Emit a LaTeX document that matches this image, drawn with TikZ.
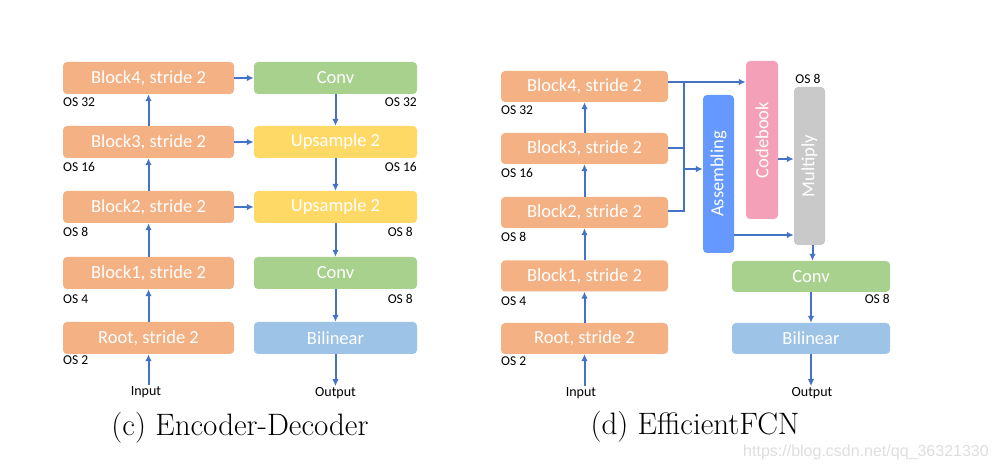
\documentclass[tikz,border=0pt]{standalone}
\usepackage{fontspec}
\usepackage{xcolor}
\usetikzlibrary{
    arrows.meta,
    calc,
    positioning
}
\newfontfamily\boxfont{Carlito}
\newfontfamily\markfont{Liberation Sans}
\definecolor{encorange}{HTML}{F4B183}
\definecolor{convgreen}{HTML}{A9D18E}
\definecolor{upyellow}{HTML}{FFD966}
\definecolor{bilblue}{HTML}{9DC3E6}
\definecolor{asmblue}{HTML}{6699FF}
\definecolor{cbpink}{HTML}{F4A0B8}
\definecolor{mulgray}{HTML}{C9C9C9}
\definecolor{flowblue}{HTML}{4472C4}
\tikzset{
    blockbox/.style={rectangle, rounded corners=4pt, inner sep=0pt, text=white,
        font=\boxfont\fontsize{18.5}{20}\selectfont, minimum height=32pt},
    tallbox/.style={rectangle, rounded corners=4pt, inner sep=0pt,
        minimum width=31pt, minimum height=158pt},
    tallname/.style={rotate=90, inner sep=0pt, text=white,
        font=\boxfont\fontsize{18.5}{20}\selectfont},
    oslabel/.style={inner sep=0pt, font=\boxfont\fontsize{13.5}{15}\selectfont},
    iolabel/.style={inner sep=1pt, font=\boxfont\fontsize{14}{16}\selectfont},
    caption/.style={inner sep=0pt, font=\fontsize{31}{36}\selectfont},
    flow/.style={draw=flowblue, line width=2pt, -{Latex[length=7pt, width=6.5pt]}},
    bus/.style={draw=flowblue, line width=2pt}
}

\begin{document}
\begin{tikzpicture}[x=1pt, y=-1pt]
    \useasboundingbox (0, 0) rectangle (997, 470);
    \begin{scope}
        \node[blockbox, fill=encorange, minimum width=171pt] (lb4) at (148.5, 78) {Block4, stride 2};
        \node[blockbox, fill=encorange, minimum width=171pt] (lb3) at (148.5, 142) {Block3, stride 2};
        \node[blockbox, fill=encorange, minimum width=171pt] (lb2) at (148.5, 207) {Block2, stride 2};
        \node[blockbox, fill=encorange, minimum width=171pt] (lb1) at (148.5, 273) {Block1, stride 2};
        \node[blockbox, fill=encorange, minimum width=171pt] (lroot) at (148.5, 338) {Root, stride 2};
        \node[blockbox, fill=convgreen, minimum width=163pt] (lconva) at (335.5, 78) {Conv};
        \node[blockbox, fill=upyellow, minimum width=163pt] (lupa) at (335.5, 142) {Upsample 2};
        \node[blockbox, fill=upyellow, minimum width=163pt] (lupb) at (335.5, 207) {Upsample 2};
        \node[blockbox, fill=convgreen, minimum width=163pt] (lconvb) at (335.5, 273) {Conv};
        \node[blockbox, fill=bilblue, minimum width=163pt] (lbil) at (335.5, 338) {Bilinear};
        \node[oslabel, anchor=west] (los32) at (63, 102) {OS 32};
        \node[oslabel, anchor=west] (los16) at (63, 167) {OS 16};
        \node[oslabel, anchor=west] (los8) at (63, 232) {OS 8};
        \node[oslabel, anchor=west] (los4) at (63, 299) {OS 4};
        \node[oslabel, anchor=west] (los2) at (63, 360) {OS 2};
        \node[oslabel, anchor=east] (ros32) at (417, 102) {OS 32};
        \node[oslabel, anchor=east] (ros16) at (417, 167) {OS 16};
        \node[oslabel, anchor=east] (ros8a) at (413, 232) {OS 8};
        \node[oslabel, anchor=east] (ros8b) at (413, 299) {OS 8};
        \node[iolabel] (lin) at (146, 392) {Input};
        \node[iolabel] (lout) at (335.5, 393) {Output};
        \draw[flow] (lin.north -| lroot.south) -- (lroot.south);
        \draw[flow] (lroot) -- (lb1);
        \draw[flow] (lb1) -- (lb2);
        \draw[flow] (lb2) -- (lb3);
        \draw[flow] (lb3) -- (lb4);
        \draw[flow] (lb4) -- (lconva);
        \draw[flow] (lb3) -- (lupa);
        \draw[flow] (lb2) -- (lupb);
        \draw[flow] (lconva) -- (lupa);
        \draw[flow] (lupa) -- (lupb);
        \draw[flow] (lupb) -- (lconvb);
        \draw[flow] (lconvb) -- (lbil);
        \draw[flow] (lbil.south) -- (lout.north -| lbil.south);
        \node[caption] (capc) at (240, 428) {(c) Encoder-Decoder};
    \end{scope}
    \begin{scope}
        \node[blockbox, fill=encorange, minimum width=167pt, minimum height=31pt] (rb4) at (584.5, 86.5) {Block4, stride 2};
        \node[blockbox, fill=encorange, minimum width=167pt, minimum height=31pt] (rb3) at (584.5, 148.5) {Block3, stride 2};
        \node[blockbox, fill=encorange, minimum width=167pt, minimum height=31pt] (rb2) at (584.5, 212.5) {Block2, stride 2};
        \node[blockbox, fill=encorange, minimum width=167pt, minimum height=31pt] (rb1) at (584.5, 276) {Block1, stride 2};
        \node[blockbox, fill=encorange, minimum width=167pt, minimum height=31pt] (rroot) at (584.5, 338.5) {Root, stride 2};
        \node[tallbox, fill=asmblue] (asm) at (718.5, 174) {};
        \node[tallname] at (asm) {Assembling};
        \node[tallbox, fill=cbpink, minimum width=32pt] (cb) at (762, 140) {};
        \node[tallname] at (cb) {Codebook};
        \node[tallbox, fill=mulgray] (mul) at (809.5, 166) {};
        \node[tallname] at (mul) {Multiply};
        \node[blockbox, fill=convgreen, minimum width=158pt, minimum height=31pt] (rconv) at (811, 276.5) {Conv};
        \node[blockbox, fill=bilblue, minimum width=158pt, minimum height=31pt] (rbil) at (811, 338.5) {Bilinear};
        \node[oslabel, anchor=west] (dos32) at (501, 110) {OS 32};
        \node[oslabel, anchor=west] (dos16) at (501, 173) {OS 16};
        \node[oslabel, anchor=west] (dos8) at (501, 237) {OS 8};
        \node[oslabel, anchor=west] (dos4) at (501, 301) {OS 4};
        \node[oslabel, anchor=west] (dos2) at (501, 361) {OS 2};
        \node[oslabel] (mos8) at (808, 79) {OS 8};
        \node[oslabel, anchor=east] (cos8) at (890, 299) {OS 8};
        \node[iolabel] (rin) at (581, 393) {Input};
        \node[iolabel] (rout) at (812, 393) {Output};
        \coordinate (bustop) at (684, 82);
        \coordinate (busmid) at (684, 169);
        \draw[flow] (rin.north -| rroot.south) -- (rroot.south);
        \draw[flow] (rroot) -- (rb1);
        \draw[flow] (rb1) -- (rb2);
        \draw[flow] (rb2) -- (rb3);
        \draw[flow] (rb3) -- (rb4);
        \draw[flow] ([yshift=4.5pt]rb4.east) -- ([yshift=4.5pt]rb4.east -| cb.west);
        \draw[bus] (rb3.east) -- (rb3.east -| bustop);
        \draw[bus] ([yshift=1.5pt]rb2.east) -- ([yshift=1.5pt]rb2.east -| bustop) -- (bustop);
        \draw[flow] (busmid) -- (busmid -| asm.west);
        \draw[flow] ([yshift=-19pt]cb.east) -- ([yshift=-19pt]cb.east -| mul.west);
        \draw[flow] ([yshift=-61pt]asm.east) -- ([yshift=-61pt]asm.east -| mul.west);
        \draw[flow] ([xshift=3pt]mul.south) -- ([xshift=3pt]mul.south |- rconv.north);
        \draw[flow] (rconv) -- (rbil);
        \draw[flow] (rbil.south) -- (rout.north -| rbil.south);
        \node[caption] (capd) at (695, 427) {(d) EfficientFCN};
    \end{scope}
    \node[inner sep=0pt, text=black!13, font=\markfont\fontsize{16}{18}\selectfont] (mark) at (866, 452) {https://blog.csdn.net/qq\_36321330};
\end{tikzpicture}
\end{document}
